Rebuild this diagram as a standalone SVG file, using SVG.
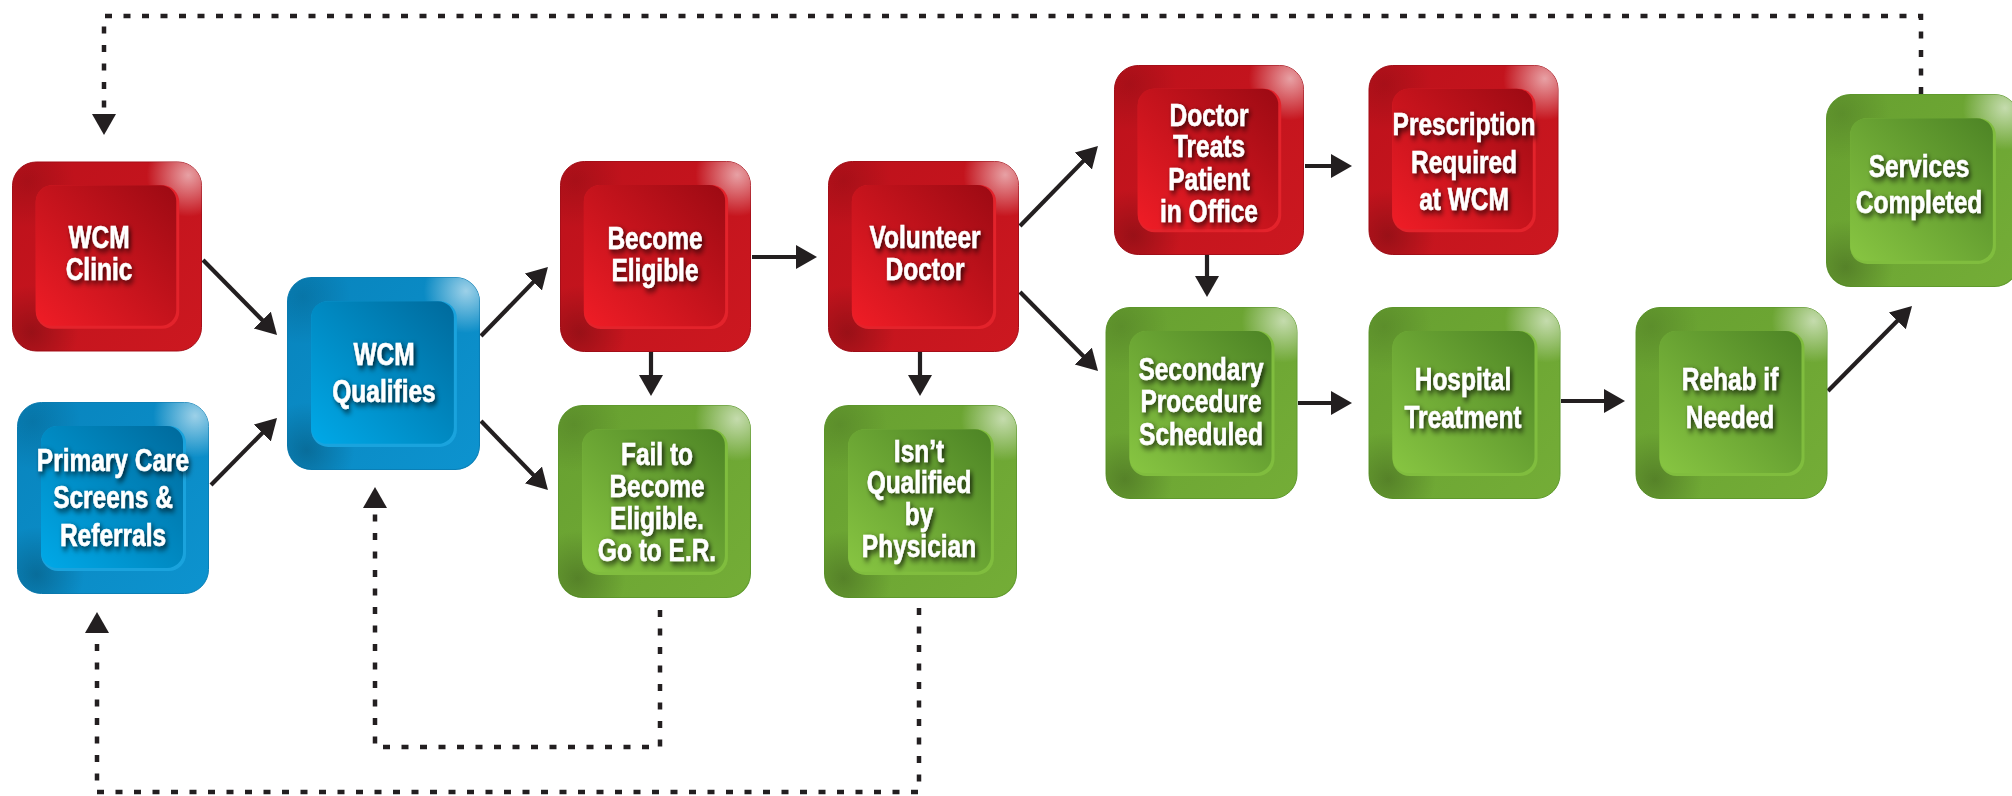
<svg xmlns="http://www.w3.org/2000/svg" xmlns:xlink="http://www.w3.org/1999/xlink" width="2012" height="796" viewBox="0 0 2012 796">
<style>
.lbl{font-family:"Liberation Sans",Arial,sans-serif;font-weight:bold;font-size:31px;fill:#ffffff;stroke:#ffffff;stroke-width:0.5;text-anchor:middle;filter:url(#tshadow)}
.conn{fill:none;stroke:#231f20;stroke-width:4.2}
.dot{fill:none;stroke:#231f20;stroke-width:4.5;stroke-dasharray:7 11.5}
</style>
<defs>
<filter id="tshadow" x="-20%" y="-30%" width="150%" height="170%">
<feGaussianBlur in="SourceAlpha" stdDeviation="3"/>
<feOffset dx="3" dy="3" result="b"/>
<feFlood flood-color="#000" flood-opacity="0.8"/>
<feComposite in2="b" operator="in"/>
<feMerge><feMergeNode/><feMergeNode in="SourceGraphic"/></feMerge>
</filter>
<marker id="ah" markerUnits="userSpaceOnUse" markerWidth="24" markerHeight="26" refX="9" refY="12" orient="auto">
<path d="M0,0 L21,12 L0,24 Z" fill="#231f20"/>
</marker>
<radialGradient id="hiRT" cx="0.93" cy="0.07" r="0.22">
<stop offset="0" stop-color="#ffffff" stop-opacity="0.6"/>
<stop offset="1" stop-color="#ffffff" stop-opacity="0"/>
</radialGradient>
<radialGradient id="shBL" cx="0.1" cy="0.9" r="0.25">
<stop offset="0" stop-color="#000000" stop-opacity="0.22"/>
<stop offset="1" stop-color="#000000" stop-opacity="0"/>
</radialGradient>
<radialGradient id="shTL" cx="0.08" cy="0.1" r="0.25">
<stop offset="0" stop-color="#000000" stop-opacity="0.12"/>
<stop offset="1" stop-color="#000000" stop-opacity="0"/>
</radialGradient>
<linearGradient id="rFrame" x1="0" y1="0" x2="1" y2="1">
<stop offset="0" stop-color="#bd111b"/><stop offset="1" stop-color="#cc1820"/>
</linearGradient>
<linearGradient id="rFace" x1="0" y1="1" x2="1" y2="0">
<stop offset="0" stop-color="#f01d26"/><stop offset="1" stop-color="#9c0a13"/>
</linearGradient>
<linearGradient id="bFrame" x1="0" y1="0" x2="1" y2="1">
<stop offset="0" stop-color="#0884bd"/><stop offset="1" stop-color="#0d93cf"/>
</linearGradient>
<linearGradient id="bFace" x1="0" y1="1" x2="1" y2="0">
<stop offset="0" stop-color="#00a9e8"/><stop offset="1" stop-color="#006a9c"/>
</linearGradient>
<linearGradient id="gFrame" x1="0" y1="0" x2="1" y2="1">
<stop offset="0" stop-color="#67a030"/><stop offset="1" stop-color="#74ad37"/>
</linearGradient>
<linearGradient id="gFace" x1="0" y1="1" x2="1" y2="0">
<stop offset="0" stop-color="#88c642"/><stop offset="1" stop-color="#4d8425"/>
</linearGradient>
<symbol id="kRed" viewBox="0 0 192 192">
<rect x="0.5" y="0.5" width="191" height="191" rx="24" fill="url(#rFrame)" stroke="#a60d17"/>
<rect x="0.5" y="0.5" width="191" height="191" rx="24" fill="url(#shBL)"/>
<rect x="0.5" y="0.5" width="191" height="191" rx="24" fill="url(#shTL)"/>
<rect x="0.5" y="0.5" width="191" height="191" rx="24" fill="url(#hiRT)"/>
<rect x="24" y="24" width="145" height="145" rx="17" fill="#e3232b"/>
<rect x="24" y="24" width="142" height="142" rx="16" fill="url(#rFace)"/>
</symbol>
<symbol id="kBlue" viewBox="0 0 192 192">
<rect x="0.5" y="0.5" width="191" height="191" rx="24" fill="url(#bFrame)" stroke="#0a7fb6"/>
<rect x="0.5" y="0.5" width="191" height="191" rx="24" fill="url(#shBL)"/>
<rect x="0.5" y="0.5" width="191" height="191" rx="24" fill="url(#shTL)"/>
<rect x="0.5" y="0.5" width="191" height="191" rx="24" fill="url(#hiRT)"/>
<rect x="24" y="24" width="145" height="145" rx="17" fill="#1aa3dd"/>
<rect x="24" y="24" width="142" height="142" rx="16" fill="url(#bFace)"/>
</symbol>
<symbol id="kGreen" viewBox="0 0 192 192">
<rect x="0.5" y="0.5" width="191" height="191" rx="24" fill="url(#gFrame)" stroke="#5f9a2c"/>
<rect x="0.5" y="0.5" width="191" height="191" rx="24" fill="url(#shBL)"/>
<rect x="0.5" y="0.5" width="191" height="191" rx="24" fill="url(#shTL)"/>
<rect x="0.5" y="0.5" width="191" height="191" rx="24" fill="url(#hiRT)"/>
<rect x="24" y="24" width="145" height="145" rx="17" fill="#80bd3e"/>
<rect x="24" y="24" width="142" height="142" rx="16" fill="url(#gFace)"/>
</symbol>
</defs>
<rect width="2012" height="796" fill="#ffffff"/>

<g id="connectors">
<path class="dot" d="M1921,94 V16 H104 V123" marker-end="url(#ah)"/>
<path class="dot" d="M660,610 V747 H375 V499" marker-end="url(#ah)"/>
<path class="dot" d="M919,608 V792 H97 V624" marker-end="url(#ah)"/>
<path class="conn" d="M203,260 L268.6,326.5" marker-end="url(#ah)"/>
<path class="conn" d="M211,485 L268.6,426.6" marker-end="url(#ah)"/>
<path class="conn" d="M481,336 L539.6,275.6" marker-end="url(#ah)"/>
<path class="conn" d="M481,421 L539.6,481.4" marker-end="url(#ah)"/>
<path class="conn" d="M752,257 L805,257" marker-end="url(#ah)"/>
<path class="conn" d="M651,352 L651,384" marker-end="url(#ah)"/>
<path class="conn" d="M920,352 L920,384" marker-end="url(#ah)"/>
<path class="conn" d="M1020,226 L1089.6,154.6" marker-end="url(#ah)"/>
<path class="conn" d="M1020,292 L1089.6,362.5" marker-end="url(#ah)"/>
<path class="conn" d="M1305,166 L1340,166" marker-end="url(#ah)"/>
<path class="conn" d="M1207,255 L1207,285" marker-end="url(#ah)"/>
<path class="conn" d="M1298,403 L1340,403" marker-end="url(#ah)"/>
<path class="conn" d="M1561,401 L1613,401" marker-end="url(#ah)"/>
<path class="conn" d="M1828,391 L1903.6,314.5" marker-end="url(#ah)"/>
</g>

<g id="wcm-clinic">
<use xlink:href="#kRed" x="12" y="161" width="190" height="191"/>
<text class="lbl" transform="matrix(0.79 0 0 1 99 0)"><tspan x="0" y="248">WCM</tspan><tspan x="0" y="280">Clinic</tspan></text>
</g>
<g id="primary-care">
<use xlink:href="#kBlue" x="17" y="402" width="192" height="192"/>
<text class="lbl" transform="matrix(0.79 0 0 1 113 0)"><tspan x="0" y="471">Primary Care</tspan><tspan x="0" y="508">Screens &amp;</tspan><tspan x="0" y="546">Referrals</tspan></text>
</g>
<g id="wcm-qualifies">
<use xlink:href="#kBlue" x="287" y="277" width="193" height="193"/>
<text class="lbl" transform="matrix(0.79 0 0 1 384 0)"><tspan x="0" y="365">WCM</tspan><tspan x="0" y="402">Qualifies</tspan></text>
</g>
<g id="become-eligible">
<use xlink:href="#kRed" x="560" y="161" width="191" height="191"/>
<text class="lbl" transform="matrix(0.79 0 0 1 655 0)"><tspan x="0" y="249">Become</tspan><tspan x="0" y="281">Eligible</tspan></text>
</g>
<g id="volunteer-doctor">
<use xlink:href="#kRed" x="828" y="161" width="191" height="191"/>
<text class="lbl" transform="matrix(0.79 0 0 1 925 0)"><tspan x="0" y="248">Volunteer</tspan><tspan x="0" y="280">Doctor</tspan></text>
</g>
<g id="fail-eligible">
<use xlink:href="#kGreen" x="558" y="405" width="193" height="193"/>
<text class="lbl" transform="matrix(0.79 0 0 1 657 0)"><tspan x="0" y="465">Fail to</tspan><tspan x="0" y="497">Become</tspan><tspan x="0" y="529">Eligible.</tspan><tspan x="0" y="561">Go to E.R.</tspan></text>
</g>
<g id="not-qualified">
<use xlink:href="#kGreen" x="824" y="405" width="193" height="193"/>
<text class="lbl" transform="matrix(0.79 0 0 1 919 0)"><tspan x="0" y="462">Isn’t</tspan><tspan x="0" y="493">Qualified</tspan><tspan x="0" y="525">by</tspan><tspan x="0" y="557">Physician</tspan></text>
</g>
<g id="doctor-treats">
<use xlink:href="#kRed" x="1113" y="65" width="192" height="190"/>
<text class="lbl" transform="matrix(0.79 0 0 1 1209 0)"><tspan x="0" y="126">Doctor</tspan><tspan x="0" y="157">Treats</tspan><tspan x="0" y="190">Patient</tspan><tspan x="0" y="222">in Office</tspan></text>
</g>
<g id="prescription">
<use xlink:href="#kRed" x="1368" y="65" width="191" height="190"/>
<text class="lbl" transform="matrix(0.79 0 0 1 1464 0)"><tspan x="0" y="135">Prescription</tspan><tspan x="0" y="173">Required</tspan><tspan x="0" y="210">at WCM</tspan></text>
</g>
<g id="secondary-procedure">
<use xlink:href="#kGreen" x="1105" y="307" width="193" height="192"/>
<text class="lbl" transform="matrix(0.79 0 0 1 1201 0)"><tspan x="0" y="380">Secondary</tspan><tspan x="0" y="412">Procedure</tspan><tspan x="0" y="445">Scheduled</tspan></text>
</g>
<g id="hospital-treatment">
<use xlink:href="#kGreen" x="1368" y="307" width="193" height="192"/>
<text class="lbl" transform="matrix(0.79 0 0 1 1463 0)"><tspan x="0" y="390">Hospital</tspan><tspan x="0" y="428">Treatment</tspan></text>
</g>
<g id="rehab">
<use xlink:href="#kGreen" x="1635" y="307" width="193" height="192"/>
<text class="lbl" transform="matrix(0.79 0 0 1 1730 0)"><tspan x="0" y="390">Rehab if</tspan><tspan x="0" y="428">Needed</tspan></text>
</g>
<g id="services-completed">
<use xlink:href="#kGreen" x="1826" y="94" width="193" height="193"/>
<text class="lbl" transform="matrix(0.79 0 0 1 1919 0)"><tspan x="0" y="177">Services</tspan><tspan x="0" y="213">Completed</tspan></text>
</g>
</svg>
